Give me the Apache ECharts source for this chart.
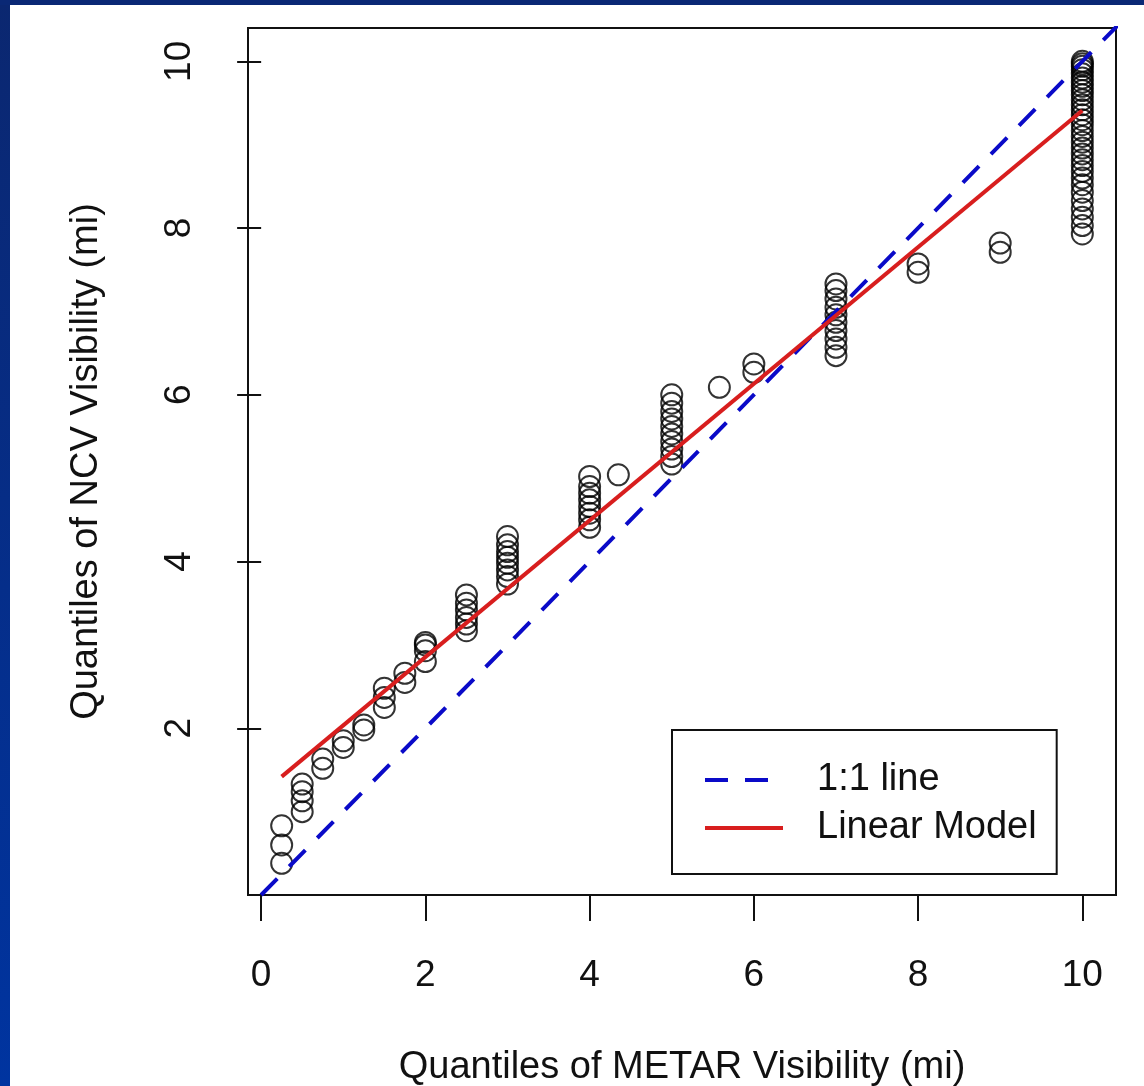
<!DOCTYPE html>
<html>
<head>
<meta charset="utf-8">
<script src="https://cdn.jsdelivr.net/npm/echarts@6/dist/echarts.min.js"></script>
<style>
html,body{margin:0;padding:0;background:#fff;}
#chart{width:1144px;height:1086px;}
</style>
</head>
<body>
<div id="chart"></div>
<script>
// METAR quantile (x) and NCV quantile (y) for each plotted point
var metarQuantiles = [
  0.25,0.25,0.25,
  0.5,0.5,0.5,0.5,
  0.75,0.75,
  1,1,
  1.25,1.25,
  1.5,1.5,1.5,
  1.75,1.75,
  2,2,2,2,
  2.5,2.5,2.5,2.5,2.5,2.5,
  3,3,3,3,3,3,3,3,
  4,4,4,4,4,4,4,4,
  4.35,
  5,5,5,5,5,5,5,5,5,5,
  5.58,
  6,6,
  7,7,7,7,7,7,7,7,7,7,
  8,8,
  9,9,
  10,10,10,10,10,10,10,10,10,10,10,10,10,10,10,10,10,10,10,10,10,10,10,10,10,10,10,10,10,10,10,10
];
var ncvQuantiles = [
  0.38,0.6,0.83,
  1.0,1.13,1.24,1.33,
  1.52,1.63,
  1.77,1.85,
  1.98,2.04,
  2.25,2.37,2.48,
  2.55,2.66,
  2.8,2.93,3.0,3.03,
  3.17,3.25,3.33,3.42,3.5,3.6,
  3.73,3.82,3.9,3.98,4.05,4.12,4.2,4.3,
  4.41,4.5,4.58,4.66,4.74,4.82,4.9,5.02,
  5.04,
  5.17,5.26,5.35,5.44,5.53,5.62,5.71,5.8,5.9,6.0,
  6.09,
  6.27,6.37,
  6.47,6.57,6.67,6.77,6.87,6.96,7.05,7.15,7.25,7.33,
  7.47,7.57,
  7.71,7.82,
  7.93,8.03,8.13,8.23,8.33,8.43,8.52,8.6,8.68,8.75,8.82,8.89,8.96,9.03,9.1,9.17,9.24,9.3,9.36,9.42,9.48,9.54,9.6,9.65,9.7,9.75,9.8,9.85,9.9,9.94,9.97,10.0
];
// reference lines (x, y) endpoints
var oneToOneLine = [[0, 0], [10.5, 10.5]];
var linearModelLine = [[0.25, 1.42], [10, 9.41]];
// tick labels
var xTicks = [0, 2, 4, 6, 8, 10];
var yTicks = [2, 4, 6, 8, 10];
var seriesNames = ['1:1 line', 'Linear Model'];
var xTitle = 'Quantiles of METAR Visibility (mi)';
var yTitle = 'Quantiles of NCV Visibility (mi)';

var points = metarQuantiles.map(function (x, i) { return [x, ncvQuantiles[i]]; });

var FONT = '"Liberation Sans", Arial, Helvetica, sans-serif';
var chart = echarts.init(document.getElementById('chart'), null, {renderer: 'canvas'});
chart.setOption({
  backgroundColor: '#ffffff',
  animation: false,
  graphic: [
    {type: 'rect', left: 0, top: 0, shape: {width: 10, height: 1086}, z: 100,
     style: {fill: new echarts.graphic.LinearGradient(0, 0, 0, 1, [
       {offset: 0, color: '#0b2770'}, {offset: 1, color: '#0034a0'}])}},
    {type: 'rect', left: 0, top: 0, shape: {width: 1144, height: 5}, z: 100,
     style: {fill: '#0a2875'}}
  ],
  grid: {
    left: 248, right: 28, top: 28, bottom: 191,
    containLabel: false, outerBoundsMode: 'none',
    show: true, borderColor: '#111', borderWidth: 2, backgroundColor: 'transparent'
  },
  legend: {
    data: seriesNames,
    orient: 'vertical',
    left: 672, top: 730,
    padding: [31, 20, 27, 31],
    itemGap: 10,
    itemWidth: 78, itemHeight: 38,
    borderColor: '#111', borderWidth: 2, borderRadius: 0,
    backgroundColor: '#fff',
    itemStyle: {opacity: 0},
    lineStyle: {width: 4},
    textStyle: {fontFamily: FONT, fontSize: 38, color: '#111', padding: [0, 0, 0, 29]}
  },
  xAxis: {
    type: 'value', min: -0.16, max: 10.41,
    splitLine: {show: false},
    axisLine: {show: false},
    axisTick: {show: true, inside: false, length: 26, lineStyle: {color: '#111', width: 2}, customValues: xTicks},
    axisLabel: {margin: 62, fontFamily: FONT, fontSize: 37, color: '#111', customValues: xTicks},
    name: xTitle, nameLocation: 'middle', nameGap: 154,
    nameTextStyle: {fontFamily: FONT, fontSize: 38, color: '#111'}
  },
  yAxis: {
    type: 'value', min: 0, max: 10.4,
    splitLine: {show: false},
    axisLine: {show: false},
    axisTick: {show: true, inside: false, length: 24, lineStyle: {color: '#111', width: 2}, customValues: yTicks},
    axisLabel: {margin: 50, rotate: 90, fontFamily: FONT, fontSize: 37, color: '#111', customValues: yTicks},
    name: yTitle, nameLocation: 'middle', nameGap: 142, nameRotate: 90,
    nameTextStyle: {fontFamily: FONT, fontSize: 38, color: '#111'}
  },
  series: [
    {
      type: 'scatter', name: 'points', data: points,
      symbol: 'circle', symbolSize: 21,
      itemStyle: {color: 'rgba(0,0,0,0)', borderColor: '#000', borderWidth: 2},
      z: 2, silent: true
    },
    {
      type: 'line', name: seriesNames[0], data: oneToOneLine,
      symbol: 'none', clip: true,
      lineStyle: {color: '#0a0ac8', width: 4, type: [23, 17]},
      itemStyle: {color: '#0a0ac8'},
      z: 3
    },
    {
      type: 'line', name: seriesNames[1], data: linearModelLine,
      symbol: 'none', clip: true,
      lineStyle: {color: '#d81e1e', width: 4},
      itemStyle: {color: '#d81e1e'},
      z: 4
    }
  ]
});
</script>
</body>
</html>
